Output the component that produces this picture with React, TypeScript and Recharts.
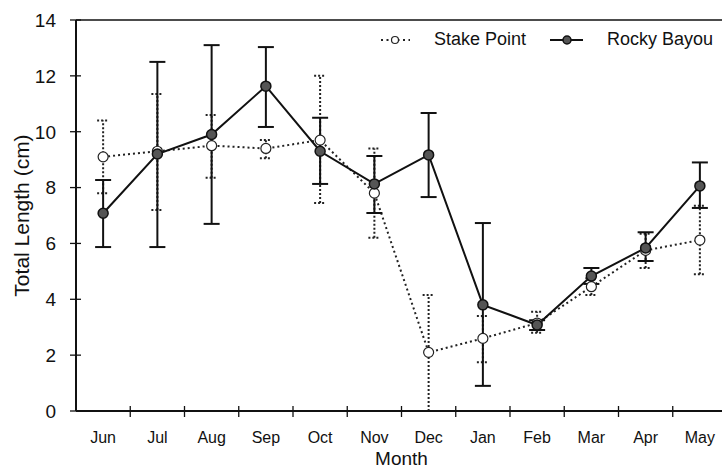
import React from 'react';
import { LineChart, Line, XAxis, YAxis, ErrorBar, Legend, ReferenceLine } from 'recharts';

const months = ['Jun', 'Jul', 'Aug', 'Sep', 'Oct', 'Nov', 'Dec', 'Jan', 'Feb', 'Mar', 'Apr', 'May'];

const stakeMean = [9.1, 9.3, 9.5, 9.4, 9.7, 7.8, 2.1, 2.6, 3.15, 4.45, 5.75, 6.12];
const stakeLow = [7.8, 7.2, 8.35, 9.05, 7.45, 6.2, 0, 1.75, 2.8, 4.15, 5.12, 4.9];
const stakeHigh = [10.4, 11.35, 10.6, 9.7, 12.0, 9.4, 4.15, 3.4, 3.55, 4.75, 6.35, 7.35];

const rockyMean = [7.08, 9.2, 9.9, 11.63, 9.3, 8.13, 9.17, 3.8, 3.08, 4.83, 5.84, 8.06];
const rockyLow = [5.87, 5.87, 6.7, 10.17, 8.13, 7.09, 7.66, 0.9, 2.9, 4.55, 5.37, 7.27];
const rockyHigh = [8.27, 12.5, 13.1, 13.03, 10.5, 9.13, 10.67, 6.73, 3.25, 5.12, 6.4, 8.9];

const yTicks = [0, 2, 4, 6, 8, 10, 12, 14];

const data = months.map((m, i) => ({
  month: m,
  stake: stakeMean[i],
  stakeErr: [stakeMean[i] - stakeLow[i], stakeHigh[i] - stakeMean[i]],
  rocky: rockyMean[i],
  rockyErr: [rockyMean[i] - rockyLow[i], rockyHigh[i] - rockyMean[i]],
}));

const FONT = '"Liberation Sans", Arial, sans-serif';
const CHART_W = 727;
const CHART_H = 469;
const AXIS_X = 76;
const BAND = (CHART_W - AXIS_X) / months.length;

const YTick = ({ x, y, payload }: any) => {
  const ax = x + 14;
  return (
    <g>
      <line x1={ax} x2={ax + 11} y1={y} y2={y} stroke="#111" strokeWidth={1.3} />
      <text x={x} y={y} dy="0.36em" textAnchor="end" fontSize={19} fill="#111" fontFamily={FONT}>
        {payload.value}
      </text>
    </g>
  );
};

const XTick = ({ x, y, payload, index }: any) => {
  const ay = y - 8;
  return (
    <g>
      {index < months.length - 1 && (
        <line x1={x + BAND / 2} x2={x + BAND / 2} y1={ay} y2={ay - 11} stroke="#111" strokeWidth={1.3} />
      )}
      <text x={x} y={y} dy="1.12em" textAnchor="middle" fontSize={16} fill="#111" fontFamily={FONT}>
        {payload.value}
      </text>
    </g>
  );
};

const OpenDot = ({ cx, cy }: any) => (
  <circle cx={cx} cy={cy} r={5} fill="#fff" stroke="#222" strokeWidth={1.2} />
);

const FilledDot = ({ cx, cy }: any) => (
  <circle cx={cx} cy={cy} r={5} fill="#555" stroke="#111" strokeWidth={1.5} />
);

const renderLegend = () => (
  <div style={{ display: 'flex', alignItems: 'center', fontFamily: FONT, fontSize: 18, color: '#111' }}>
    <svg width={30} height={12}>
      <line x1={1} x2={30} y1={6} y2={6} stroke="#222" strokeWidth={2} strokeDasharray="2 3.5" />
      <circle cx={15} cy={6} r={3.5} fill="#fff" stroke="#222" strokeWidth={1.2} />
    </svg>
    <span style={{ marginLeft: 24 }}>Stake Point</span>
    <svg width={33} height={12} style={{ marginLeft: 24 }}>
      <line x1={0} x2={33} y1={6} y2={6} stroke="#111" strokeWidth={2} />
      <circle cx={17} cy={6} r={4} fill="#555" stroke="#111" strokeWidth={1.5} />
    </svg>
    <span style={{ marginLeft: 24 }}>Rocky Bayou</span>
  </div>
);

export default function App() {
  return (
    <div style={{ position: 'absolute', left: 0, top: 0, width: 722, height: CHART_H, overflow: 'hidden', background: '#fff' }}>
      <LineChart width={CHART_W} height={CHART_H} data={data} margin={{ top: 20, right: 0, bottom: 0, left: 0 }}>
        <XAxis
          dataKey="month"
          height={58}
          padding={{ left: BAND / 2, right: BAND / 2 }}
          tickLine={false}
          tickMargin={8}
          tick={<XTick />}
          stroke="#111"
          strokeWidth={2}
          interval={0}
          label={{ value: 'Month', position: 'insideBottom', offset: 0, dy: -4, fontSize: 19, fill: '#111', fontFamily: FONT }}
        />
        <YAxis
          width={AXIS_X}
          domain={[0, 14]}
          ticks={yTicks}
          tickLine={false}
          tickMargin={14}
          tick={<YTick />}
          stroke="#111"
          strokeWidth={2}
          label={{ value: 'Total Length (cm)', angle: -90, position: 'center', dx: -16, fontSize: 21, fill: '#111', fontFamily: FONT }}
        />
        <ReferenceLine y={14} stroke="#111" strokeWidth={1.5} />
        <Legend
          verticalAlign="middle"
          align="center"
          content={renderLegend}
          wrapperStyle={{ top: 29, left: 380, width: 345 }}
        />
        <Line
          dataKey="stake"
          stroke="#222"
          strokeWidth={2}
          strokeDasharray="2 3"
          dot={<OpenDot />}
          isAnimationActive={false}
        >
          <ErrorBar dataKey="stakeErr" direction="y" width={6} stroke="#222" strokeWidth={2} strokeDasharray="2 2" isAnimationActive={false} />
        </Line>
        <Line
          dataKey="rocky"
          stroke="#111"
          strokeWidth={2}
          dot={<FilledDot />}
          isAnimationActive={false}
        >
          <ErrorBar dataKey="rockyErr" direction="y" width={8} stroke="#111" strokeWidth={2} isAnimationActive={false} />
        </Line>
      </LineChart>
    </div>
  );
}
